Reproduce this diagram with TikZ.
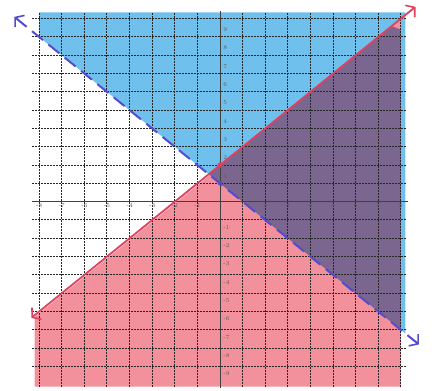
\documentclass[tikz,border=0pt]{standalone}
\usetikzlibrary{arrows.meta}
\definecolor{skyfill}{RGB}{112,192,238}
\definecolor{pinkfill}{RGB}{242,145,155}
\definecolor{overlapfill}{RGB}{122,102,142}
\definecolor{bluepen}{RGB}{85,75,205}
\definecolor{redpen}{RGB}{225,65,95}
\tikzset{vbarb/.tip={Straight Barb[length=6pt,width=15pt,line width=1.6pt]}}
\begin{document}
\begin{tikzpicture}[x=22.6pt,y=18.3pt,
  gridline/.style={black!85,line width=1pt,dash pattern=on 1.3pt off 1.7pt},
  axisline/.style={black!75,line width=1pt},
  lab/.style={font=\fontsize{6}{6}\selectfont,text=black!65,inner sep=0.5pt},
  bluebound/.style={bluepen,line width=2pt,dash pattern=on 14pt off 7pt},
  redbound/.style={redpen,line width=1.8pt}]
\useasboundingbox[fill=white] (-220pt,-188.3pt) rectangle (215pt,201.7pt);
% shaded regions
\fill[skyfill] (-8.0,10.35) -- (8.2,10.35) -- (8.2,-7.2) -- (-8.0,9.0) -- cycle;
\fill[pinkfill] (-8.2,-6.3) -- (8.0,9.9) -- (8.0,-10.1) -- (-8.2,-10.1) -- cycle;
\fill[overlapfill] (-0.5,1.5) -- (7.6,9.6) -- (8.0,9.4) -- (8.0,-7.0) -- cycle;
% grid
\foreach \i in {-8,...,-1,1,2,...,8} \draw[gridline] (\i,-10.1) -- (\i,10.35);
\foreach \j in {-9,...,-1,1,2,...,10} \draw[gridline] (-8.3,\j) -- (8.25,\j);
% axes
\draw[axisline] (-8.3,0) -- (8.3,0);
\draw[axisline] (0,-10.2) -- (0,10.4);
% labels
\foreach \i in {-8,...,-1,1,2,...,8} \node[lab,anchor=north] (x\i) at (\i,-0.08) {\i};
\foreach \j in {1,...,9} \node[lab,anchor=west] (yp\j) at (0.12,\j+0.4) {\j};
\foreach \j in {1,...,9} \node[lab,anchor=west] (yn\j) at (0.12,-\j-0.4) {-\j};
% boundary lines
\coordinate (bA) at (-9.1,10.1);
\coordinate (bB) at (8.8,-7.8);
\coordinate (rA) at (-8.35,-6.35);
\coordinate (rB) at (8.65,10.65);
\draw[redbound,vbarb-vbarb] (rA) -- (rB);
\draw[bluebound,vbarb-vbarb] (bA) -- (bB);
% intercept points
\fill[redpen] (0,2) circle (2.6pt);
\fill[bluepen] (0,1) circle (2.2pt);
\end{tikzpicture}
\end{document}
